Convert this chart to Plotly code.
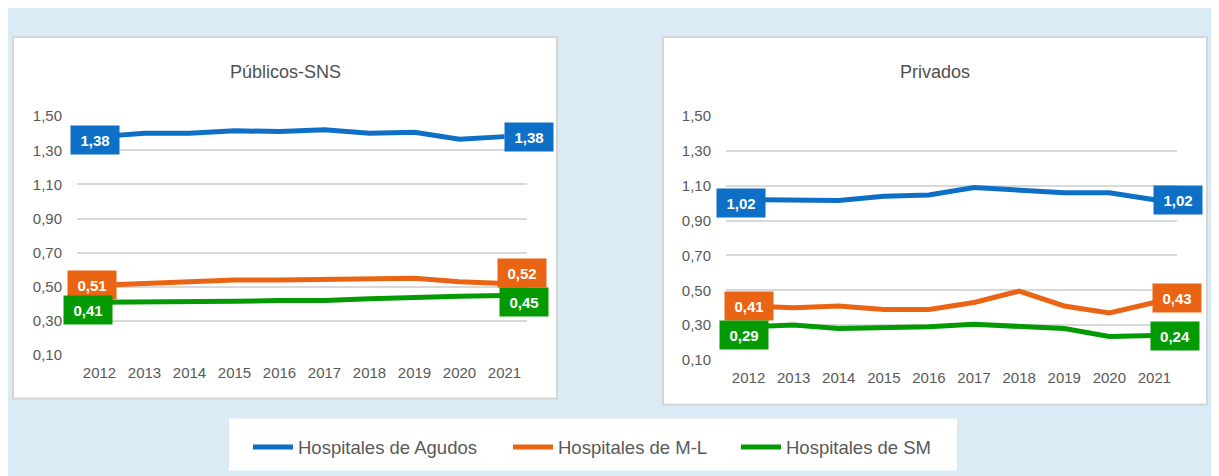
import plotly.graph_objects as go

# ---------------- data ----------------
years = ["2012", "2013", "2014", "2015", "2016", "2017", "2018", "2019", "2020", "2021"]
y_ticks = [0.10, 0.30, 0.50, 0.70, 0.90, 1.10, 1.30, 1.50]
y_tick_labels = ["0,10", "0,30", "0,50", "0,70", "0,90", "1,10", "1,30", "1,50"]

series_names = ["Hospitales de Agudos", "Hospitales de M-L", "Hospitales de SM"]
panel_titles = ["Públicos-SNS", "Privados"]

pub_agudos = [1.38, 1.40, 1.40, 1.414, 1.41, 1.42, 1.40, 1.405, 1.365, 1.38]
pub_ml = [0.51, 0.52, 0.53, 0.54, 0.54, 0.545, 0.545, 0.55, 0.53, 0.52]
pub_sm = [0.41, 0.41, 0.41, 0.415, 0.42, 0.42, 0.43, 0.44, 0.445, 0.45]

priv_agudos = [1.02, 1.02, 1.015, 1.04, 1.047, 1.09, 1.075, 1.06, 1.06, 1.02]
priv_ml = [0.41, 0.40, 0.41, 0.39, 0.39, 0.43, 0.495, 0.41, 0.37, 0.43]
priv_sm = [0.29, 0.30, 0.28, 0.285, 0.29, 0.305, 0.29, 0.28, 0.235, 0.24]

# ---------------- styles ----------------
colors = ["#0E6FC6", "#EA6513", "#049A04"]
bg = "#DBEBF6"
grid = "#D9D9D9"
txt = "#595959"
FONT = "Liberation Sans, Arial, sans-serif"
W, H = 1219, 476
OFF_X = 8            # page body margin (horizontal)
OFF_Y, SY = 17, 0.963  # observed vertical placement of the figure in the screenshot


def px_x(v):
    return (v - OFF_X) / W


def px_y(v):
    return 1 - ((v - OFF_Y) / SY) / H


# label shift styles: [panel][series] -> ((first dx, first dy), (last dx, last dy))
label_shift = [
    [((-5, -3), (24, 0)), ((-8, 0), (17, 10)), ((-12, -8), (19, -7))],
    [((-8, -3), (24, 0)), ((0, 0), (23, 4)), ((-5, -8), (21, 0))],
]

fig = go.Figure()

panels = [[pub_agudos, pub_ml, pub_sm], [priv_agudos, priv_ml, priv_sm]]
xs = list(range(len(years)))
legend_ids = ["legend", "legend2", "legend3"]

for p, data in enumerate(panels):
    xa = "x" if p == 0 else "x2"
    ya = "y" if p == 0 else "y2"
    for s, vals in enumerate(data):
        fig.add_trace(go.Scatter(
            x=xs, y=vals, mode="lines", name=series_names[s],
            line=dict(color=colors[s], width=5),
            xaxis=xa, yaxis=ya, showlegend=(p == 0), legend=legend_ids[s],
            hoverinfo="skip", cliponaxis=False,
        ))
        for k, idx in enumerate([0, len(vals) - 1]):
            dx, dy = label_shift[p][s][k]
            fig.add_annotation(
                x=xs[idx], y=vals[idx], xref=xa, yref=ya,
                text="<b>" + f"{vals[idx]:.2f}".replace(".", ",") + "</b>",
                showarrow=False, bgcolor=colors[s], borderpad=2,
                width=44, height=24,
                font=dict(color="white", size=15, family=FONT),
                xshift=dx, yshift=dy,
            )

# panel backgrounds
shapes = [
    dict(type="rect", xref="paper", yref="paper", x0=px_x(13), x1=px_x(557), y0=px_y(398), y1=px_y(37),
         fillcolor="white", line=dict(color="#D6D6D6", width=2), layer="below"),
    dict(type="rect", xref="paper", yref="paper", x0=px_x(663), x1=px_x(1207), y0=px_y(404), y1=px_y(37),
         fillcolor="white", line=dict(color="#D6D6D6", width=2), layer="below"),
    dict(type="rect", xref="paper", yref="paper", x0=px_x(229), x1=px_x(957), y0=px_y(470), y1=px_y(418),
         fillcolor="white", line=dict(width=0), layer="below"),
]

for t, cx in zip(panel_titles, [285, 935]):
    fig.add_annotation(
        x=px_x(cx), y=px_y(72), xref="paper", yref="paper", text=t, showarrow=False,
        xanchor="center", yanchor="middle",
        font=dict(size=18, color="#505050", family=FONT),
    )

tickfont = dict(size=15, color=txt, family=FONT)

xcommon = dict(tickmode="array", tickvals=xs, ticktext=years, range=[-0.5, len(years) - 0.5],
               showgrid=False, zeroline=False, showline=False, ticks="", tickfont=tickfont,
               ticklabelstandoff=7, fixedrange=True)
ycommon = dict(tickmode="array", tickvals=y_ticks, ticktext=y_tick_labels, range=[0.1, 1.5],
               showgrid=True, gridcolor=grid, gridwidth=2, zeroline=False, showline=False, ticks="",
               tickfont=tickfont, ticklabelstandoff=14, fixedrange=True)

legfont = dict(size=18.5, color=txt, family=FONT)
legcommon = dict(orientation="h", xanchor="left", yanchor="middle", y=px_y(447),
                 bgcolor="rgba(0,0,0,0)", font=legfont, itemwidth=40)

fig.update_layout(
    width=W, height=H, margin=dict(l=0, r=0, t=0, b=0),
    paper_bgcolor=bg, plot_bgcolor="rgba(0,0,0,0)",
    shapes=shapes,
    xaxis=dict(domain=[px_x(77), px_x(527)], anchor="y", **xcommon),
    yaxis=dict(domain=[px_y(354.7), px_y(116)], anchor="x", **ycommon),
    xaxis2=dict(domain=[px_x(726), px_x(1177)], anchor="y2", **xcommon),
    yaxis2=dict(domain=[px_y(359.5), px_y(116)], anchor="x2", **ycommon),
    legend=dict(x=px_x(248), **legcommon),
    legend2=dict(x=px_x(508), **legcommon),
    legend3=dict(x=px_x(736), **legcommon),
    showlegend=True,
)

fig.write_html("out.html")
